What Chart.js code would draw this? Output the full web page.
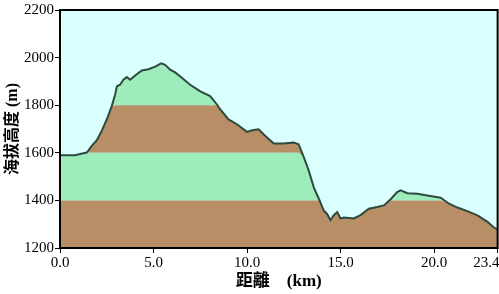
<!DOCTYPE html>
<html lang="zh-Hant">
<head>
  <meta charset="UTF-8" />
  <title>海拔高度剖面圖</title>
  <script src="https://cdn.jsdelivr.net/npm/chart.js"></script>
  <style>
    html, body { margin: 0; padding: 0; background: #fff; overflow: hidden; }
    #wrap { width: 523px; height: 294px; }
  </style>
</head>
<body>
<div id="wrap">
  <canvas id="profile" width="523" height="294"></canvas>
</div>
<script>
// distance (km) and elevation (m)
const dist = [0, 0.8, 1.07, 1.43, 1.7, 1.97, 2.23, 2.5, 2.77, 2.95, 3.04, 3.21, 3.39, 3.57, 3.75, 4.02, 4.37, 4.73, 5.09, 5.41,
  5.62, 5.89, 6.16, 6.43, 6.96, 7.5, 8.03, 8.39, 8.57, 9.01, 9.46, 10.0, 10.27, 10.62, 10.98, 11.43, 11.96, 12.5, 12.76, 13.03,
  13.3, 13.57, 13.84, 14.1, 14.29, 14.46, 14.64, 14.82, 15.0, 15.18, 15.71, 16.07, 16.51, 16.96, 17.32, 17.68, 18.03, 18.21,
  18.57, 19.1, 19.64, 20.35, 20.8, 21.25, 21.78, 22.32, 22.86, 23.2, 23.4];
const elev = [1590, 1590, 1595, 1601, 1629, 1653, 1692, 1740, 1796, 1845, 1879, 1886, 1907, 1918, 1907, 1925, 1946, 1951, 1962, 1976,
  1970, 1949, 1938, 1921, 1886, 1858, 1838, 1803, 1782, 1740, 1720, 1688, 1695, 1699, 1671, 1639, 1639, 1643, 1636, 1583,
  1525, 1455, 1407, 1358, 1342, 1317, 1338, 1351, 1324, 1328, 1324, 1338, 1365, 1372, 1379, 1405, 1435, 1442,
  1430, 1428, 1421, 1411, 1386, 1370, 1355, 1337, 1310, 1286, 1278];

// elevation bands under the profile
const bandTops = [1400, 1600, 1800, 2000];
const bandColors = ['#b88e66', '#9eecbb', '#b88e66', '#9eecbb'];

const xTicks = [0, 5, 10, 15, 20, 23.4];
const yTicks = [1200, 1400, 1600, 1800, 2000, 2200];

const serif = "'Liberation Serif', 'Noto Sans CJK TC', serif";

const pts = (arr) => dist.map((d, i) => ({ x: d, y: arr[i] }));

const datasets = [{
  data: pts(elev),
  borderColor: '#2e4a3c',
  borderWidth: 2,
  pointRadius: 0,
  fill: false
}];
bandTops.forEach((top, i) => {
  datasets.push({
    data: pts(elev.map(v => Math.min(v, top))),
    borderWidth: 0,
    borderColor: 'transparent',
    backgroundColor: bandColors[i],
    pointRadius: 0,
    fill: i === 0 ? 'start' : '-1'
  });
});

const frame = {
  id: 'frame',
  beforeDraw(chart) {
    const { ctx, chartArea: a } = chart;
    ctx.save();
    ctx.fillStyle = '#d9ffff';
    ctx.fillRect(a.left, a.top, a.right - a.left, a.bottom - a.top);
    ctx.restore();
  },
  afterDraw(chart) {
    const { ctx, chartArea: a } = chart;
    ctx.save();
    ctx.strokeStyle = '#000';
    ctx.lineWidth = 2;
    ctx.strokeRect(a.left, a.top, a.right - a.left, a.bottom - a.top);
    ctx.restore();
  }
};

new Chart(document.getElementById('profile'), {
  type: 'line',
  data: { datasets },
  plugins: [frame],
  options: {
    responsive: false,
    animation: false,
    layout: { padding: { top: 9, right: 0, left: 0, bottom: 0 } },
    plugins: { legend: { display: false }, tooltip: { enabled: false } },
    elements: { line: { tension: 0 } },
    scales: {
      x: {
        type: 'linear',
        min: 0,
        max: 23.4,
        afterBuildTicks: (s) => { s.ticks = xTicks.map(v => ({ value: v })); },
        afterFit: (s) => { s.height = 46; },
        grid: { drawOnChartArea: false, color: '#000', tickLength: 5 },
        border: { color: '#000', width: 2 },
        ticks: {
          color: '#000',
          padding: 1,
          maxRotation: 0,
          autoSkip: false,
          font: { family: serif, size: 15 },
          // last label sits a little left of its tick, as in the source
          callback: (v) => v === 23.4 ? '23.4\u2003\u2002' : Number(v).toFixed(1)
        },
        title: {
          display: true,
          text: '距離　(km)',
          color: '#000',
          padding: { top: 0, bottom: 2 },
          font: { family: serif, size: 17, weight: 'bold' }
        }
      },
      y: {
        min: 1200,
        max: 2200,
        afterBuildTicks: (s) => { s.ticks = yTicks.map(v => ({ value: v })); },
        afterFit: (s) => { s.width = 60; },
        grid: { drawOnChartArea: false, color: '#000', tickLength: 5 },
        border: { color: '#000', width: 2 },
        ticks: {
          color: '#000',
          padding: 1,
          font: { family: serif, size: 15 },
          callback: (v) => String(v)
        },
        title: {
          display: true,
          text: '海拔高度 (m)',
          color: '#000',
          padding: { top: 3, bottom: 0 },
          font: { family: serif, size: 16, weight: 'bold' }
        }
      }
    }
  }
});
</script>
</body>
</html>
